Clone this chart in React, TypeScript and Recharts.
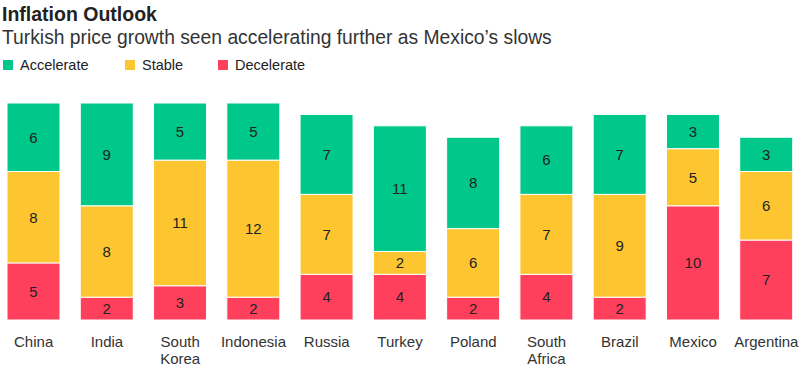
// @ts-nocheck
import { BarChart, Bar, XAxis, YAxis, LabelList } from "recharts";

const countries = ["China", "India", "South Korea", "Indonesia", "Russia", "Turkey", "Poland", "South Africa", "Brazil", "Mexico", "Argentina"];
const decelerate = [5, 2, 3, 2, 4, 4, 2, 4, 2, 10, 7];
const stable = [8, 8, 11, 12, 7, 2, 6, 7, 9, 5, 6];
const accelerate = [6, 9, 5, 5, 7, 11, 8, 6, 7, 3, 3];

const data = countries.map((name, i) => ({
  name,
  decelerate: decelerate[i],
  stable: stable[i],
  accelerate: accelerate[i],
}));

const GREEN = "#00C78A";
const YELLOW = "#FDC631";
const RED = "#FF405D";
const FONT = "'Liberation Sans', Arial, sans-serif";

const legend = [
  { label: "Accelerate", color: GREEN, x: 3 },
  { label: "Stable", color: YELLOW, x: 125 },
  { label: "Decelerate", color: RED, x: 218 },
];

function Tick({ x, y, payload }) {
  const words = payload.value.split(" ");
  return (
    <text x={x} y={y} textAnchor="middle" fill="#333" fontSize={15} fontFamily={FONT}>
      {words.map((w, i) => (
        <tspan key={i} x={x} dy={i === 0 ? 19 : 17}>
          {w}
        </tspan>
      ))}
    </text>
  );
}

export default function App() {
  return (
    <div style={{ position: "absolute", left: 0, top: 0, width: 809, height: 376, background: "#fff", fontFamily: FONT }}>
      <div style={{ position: "absolute", left: 2, top: 3, fontSize: 19.5, fontWeight: "bold", color: "#222" }}>
        Inflation Outlook
      </div>
      <div style={{ position: "absolute", left: 2, top: 27, fontSize: 19.3, color: "#333" }}>
        Turkish price growth seen accelerating further as Mexico’s slows
      </div>
      {legend.map((l) => (
        <div key={l.label} style={{ position: "absolute", left: l.x, top: 57, display: "flex", alignItems: "center", fontSize: 14.5, color: "#222" }}>
          <span style={{ display: "inline-block", width: 10, height: 10, background: l.color, marginRight: 7 }} />
          {l.label}
        </div>
      ))}
      <BarChart
        width={809}
        height={376}
        data={data}
        margin={{ top: 103, right: 6, bottom: 0, left: -3 }}
        style={{ position: "absolute", left: 0, top: 0 }}
      >
        <XAxis dataKey="name" axisLine={false} tickLine={false} interval={0} height={56} tick={<Tick />} />
        <YAxis hide domain={[0, 19]} />
        <Bar dataKey="decelerate" stackId="a" fill={RED} stroke="#fff" strokeWidth={1} barSize={53} isAnimationActive={false}>
          <LabelList dataKey="decelerate" position="center" fill="#222" fontSize={15} fontFamily={FONT} />
        </Bar>
        <Bar dataKey="stable" stackId="a" fill={YELLOW} stroke="#fff" strokeWidth={1} barSize={53} isAnimationActive={false}>
          <LabelList dataKey="stable" position="center" fill="#222" fontSize={15} fontFamily={FONT} />
        </Bar>
        <Bar dataKey="accelerate" stackId="a" fill={GREEN} stroke="#fff" strokeWidth={1} barSize={53} isAnimationActive={false}>
          <LabelList dataKey="accelerate" position="center" fill="#222" fontSize={15} fontFamily={FONT} />
        </Bar>
      </BarChart>
    </div>
  );
}
